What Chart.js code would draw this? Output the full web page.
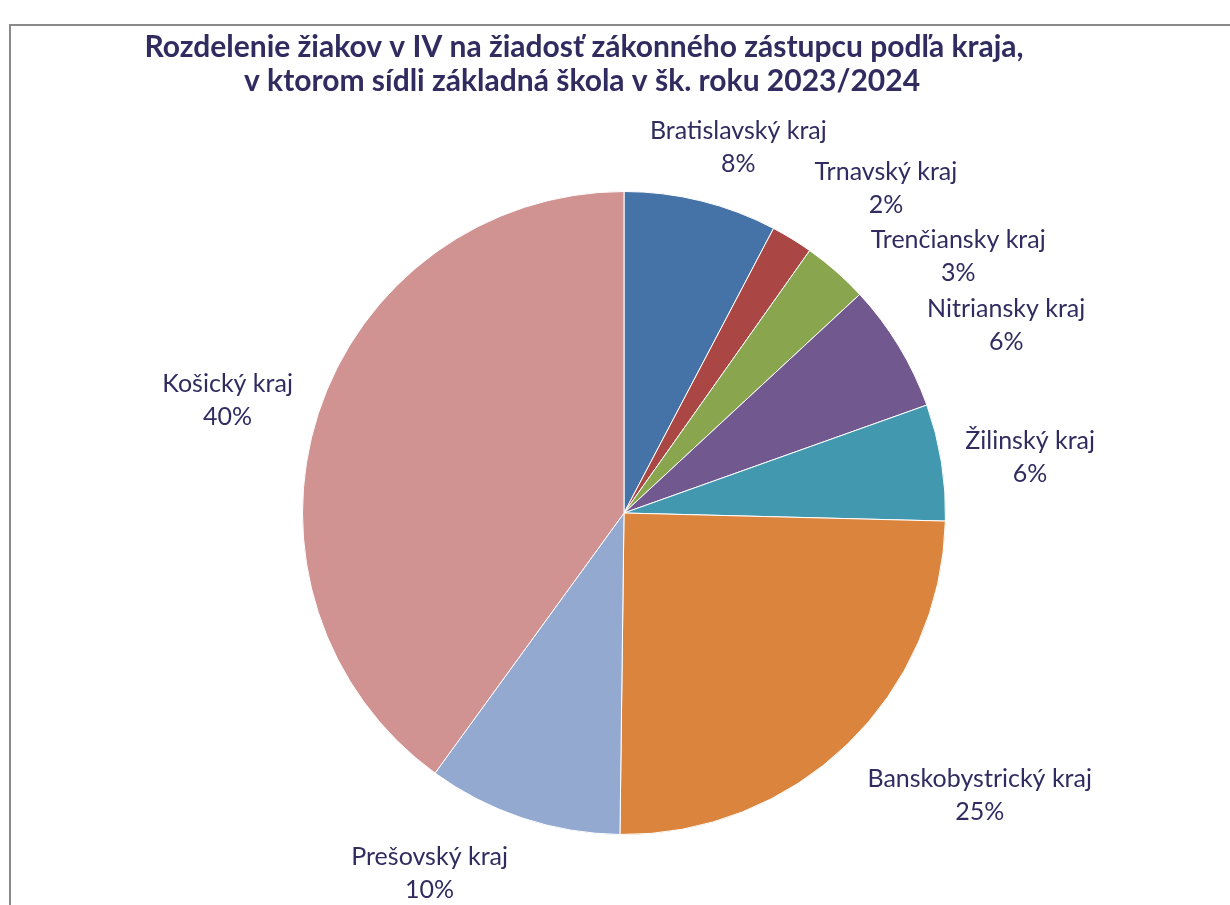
<!DOCTYPE html>
<html>
<head>
<meta charset="utf-8">
<script src="https://cdn.jsdelivr.net/npm/chart.js@4.4.1/dist/chart.umd.min.js"></script>
<style>
  html, body { margin: 0; padding: 0; background: #fff; }
  #wrap { width: 1230px; height: 905px; position: relative; }
</style>
</head>
<body>
<div id="wrap"><canvas id="canvas" width="1230" height="905"></canvas></div>
<script>
// data (share of pupils, %)
const regions = ['Bratislavský kraj', 'Trnavský kraj', 'Trenčiansky kraj', 'Nitriansky kraj',
  'Žilinský kraj', 'Banskobystrický kraj', 'Prešovský kraj', 'Košický kraj']
const shares = [7.7, 2.1, 3.3, 6.45, 5.85, 24.8, 9.8, 40.0]
const titleLines = ['Rozdelenie žiakov v IV na žiadosť zákonného zástupcu podľa kraja,',
  'v ktorom sídli základná škola v šk. roku 2023/2024']

const sliceColors = ['#4572A7', '#AA4643', '#89A54E', '#71588F', '#4198AF', '#DB843D', '#93A9CF', '#D09392']
const textColor = '#302C60'
const fontFamily = 'Lato, "Open Sans", sans-serif'
// small hand nudges, like the manually placed labels in the original
const labelNudge = [[9, 8], [41, 3], [45, 33], [14, 12], [-5, 5], [34, 5], [-59, -4], [0, 6]]

const framePlugin = {
  id: 'frame',
  beforeDraw(chart) {
    const ctx = chart.ctx
    ctx.save()
    ctx.fillStyle = '#fff'
    ctx.fillRect(0, 0, chart.width, chart.height)
    ctx.strokeStyle = '#8a8a8a'
    ctx.lineWidth = 2
    ctx.strokeRect(10, 25, chart.width + 20, chart.height + 20)
    ctx.fillStyle = textColor
    ctx.font = 'bold 30px ' + fontFamily
    ctx.textAlign = 'center'
    ctx.textBaseline = 'middle'
    ctx.fillText(titleLines[0], 584, 47)
    ctx.fillText(titleLines[1], 582, 81)
    ctx.restore()
  }
}

const labelPlugin = {
  id: 'sliceLabels',
  afterDatasetsDraw(chart) {
    const ctx = chart.ctx
    const meta = chart.getDatasetMeta(0)
    const total = shares.reduce((a, b) => a + b, 0)
    const lineH = 33
    ctx.save()
    ctx.font = '25px ' + fontFamily
    ctx.fillStyle = textColor
    ctx.textAlign = 'center'
    ctx.textBaseline = 'middle'
    meta.data.forEach((arc, i) => {
      const p = arc.getProps(['x', 'y', 'startAngle', 'endAngle', 'outerRadius'], true)
      const mid = (p.startAngle + p.endAngle) / 2
      const dx = Math.cos(mid), dy = Math.sin(mid)
      const pct = Math.round(shares[i] / total * 100) + '%'
      const w = Math.max(ctx.measureText(regions[i]).width, ctx.measureText(pct).width)
      const h = lineH * 2
      const ax = p.x + (p.outerRadius + 30) * dx
      const ay = p.y + (p.outerRadius + 30) * dy
      const cx = ax + w / 2 * dx + labelNudge[i][0]
      const cy = ay + h / 2 * dy + labelNudge[i][1]
      ctx.fillText(regions[i], cx, cy - lineH / 2)
      ctx.fillText(pct, cx, cy + lineH / 2)
    })
    ctx.restore()
  }
}

const config = {
  type: 'pie',
  data: {
    labels: regions,
    datasets: [{
      data: shares,
      backgroundColor: sliceColors,
      borderColor: '#ffffff',
      borderWidth: 1
    }]
  },
  options: {
    responsive: false,
    animation: false,
    layout: { padding: { left: 302, right: 284, top: 191, bottom: 70 } },
    plugins: {
      legend: { display: false },
      title: { display: false },
      tooltip: { enabled: false }
    }
  },
  plugins: [framePlugin, labelPlugin]
}

const canvas = document.getElementById('canvas')
const chart = new Chart(canvas, config)
</script>
</body>
</html>
